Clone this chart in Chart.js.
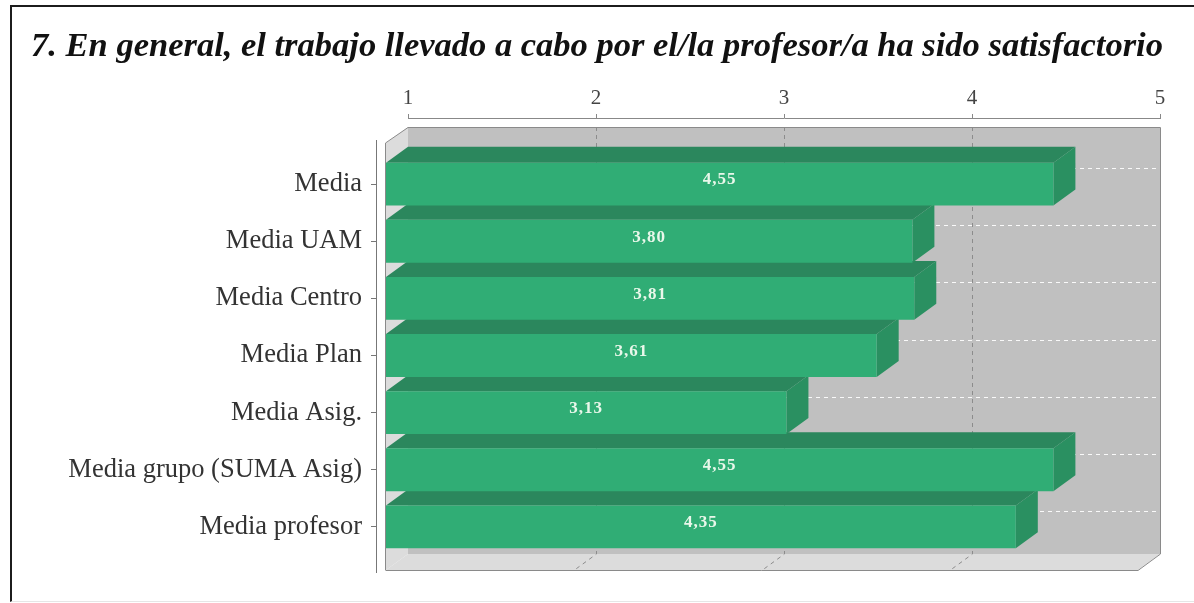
<!DOCTYPE html>
<html>
<head>
<meta charset="utf-8">
<script src="https://cdn.jsdelivr.net/npm/chart.js@4.4.1/dist/chart.umd.min.js"></script>
<style>
  html, body { margin: 0; padding: 0; background: #fff; }
  #wrap { position: relative; width: 1194px; height: 603px; overflow: hidden; }
  #frame { position: absolute; left: 10px; top: 5px; width: 1200px; height: 594px;
           border-left: 2px solid #1c1c1c; border-top: 2px solid #1c1c1c; border-bottom: 1px solid #e6e6e6; }
  canvas { position: absolute; left: 0; top: 0; }
</style>
</head>
<body>
<div id="wrap">
  <div id="frame"></div>
  <canvas id="chart" width="1194" height="603"></canvas>
</div>
<script>
// Data
const chartTitle = '7. En general, el trabajo llevado a cabo por el/la profesor/a ha sido satisfactorio';
const categories = ['Media', 'Media UAM', 'Media Centro', 'Media Plan', 'Media Asig.', 'Media grupo (SUMA Asig)', 'Media profesor'];
const values = [4.55, 3.80, 3.81, 3.61, 3.13, 4.55, 4.35];
const axisTicks = [1, 2, 3, 4, 5];

// 3D look
const DX = 22;          // depth offset to the right
const DY = 16;          // depth offset upwards
const PLOT_TOP = 155.5; // top of the category bands
const PLOT_LEFT = 386;  // value 1 on the front plane
const PLOT_MARGIN_TOP = 12.5;
const PLOT_MARGIN_BOTTOM = 14.5;
const AXIS_GAP = 9;     // space between top axis line and back wall
const Y_AXIS_GAP = 10;  // space between category axis and left wall
const SIDE_PAD = 20;    // same padding left and right keeps the title centred
const RIGHT_GUTTER = 36;

const TITLE_SIZE = 34.5;
const TITLE_PAD = 26.5;

const COLORS = {
    front: '#30ad75',
    top: '#2b875d',
    side: '#2a9061',
    backWall: '#c0c0c0',
    sideWall: '#dcdcdc',
    wallEdge: '#8a8a8a',
    gridV: '#8c8c8c',
    gridH: 'rgba(255,255,255,0.9)',
    label: '#e9f7ea'
};

const fmt = (v) => v.toFixed(2).replace('.', ',');

const poly = (ctx, pts) => {
    ctx.beginPath();
    ctx.moveTo(pts[0][0], pts[0][1]);
    for (let i = 1; i < pts.length; i++) ctx.lineTo(pts[i][0], pts[i][1]);
    ctx.closePath();
};

// front plane box, taken from the scales
function frontPlane(chart) {
    const xs = chart.scales.x;
    const area = chart.chartArea;
    return {
        left: xs.getPixelForValue(axisTicks[0]),
        right: xs.getPixelForValue(axisTicks[axisTicks.length - 1]),
        top: area.top - PLOT_MARGIN_TOP,
        bottom: area.bottom + PLOT_MARGIN_BOTTOM
    };
}

const bars3d = {
    id: 'bars3d',
    afterLayout(chart) {
        const fp = frontPlane(chart);
        // top axis sits above the back wall
        const x2 = chart.scales.x2;
        const shift = (fp.top - DY - AXIS_GAP) - x2.bottom;
        x2.left += DX; x2.right += DX;
        x2.top += shift; x2.bottom += shift;
        x2.configure();
        // category axis line pulled off the left wall
        const y = chart.scales.y;
        y.left -= Y_AXIS_GAP; y.right -= Y_AXIS_GAP;
        y.top = fp.top - 3; y.bottom = fp.bottom + 2;
    },
    beforeDatasetsDraw(chart) {
        const ctx = chart.ctx;
        const xs = chart.scales.x;
        const ys = chart.scales.y;
        const fp = frontPlane(chart);
        const bl = fp.left + DX, br = fp.right + DX, bt = fp.top - DY, bb = fp.bottom - DY;

        ctx.save();
        // back wall
        ctx.fillStyle = COLORS.backWall;
        ctx.fillRect(bl, bt, br - bl, bb - bt);
        // left wall and floor
        ctx.fillStyle = COLORS.sideWall;
        poly(ctx, [[fp.left, fp.top], [bl, bt], [bl, bb], [fp.left, fp.bottom]]);
        ctx.fill();
        poly(ctx, [[fp.left, fp.bottom], [bl, bb], [br, bb], [fp.right, fp.bottom]]);
        ctx.fill();

        // value grid lines on the back wall and floor
        ctx.lineWidth = 1;
        ctx.setLineDash([4, 4]);
        ctx.strokeStyle = COLORS.gridV;
        axisTicks.slice(1, -1).forEach(v => {
            const px = Math.round(xs.getPixelForValue(v)) + 0.5;
            ctx.beginPath();
            ctx.moveTo(px + DX, bt);
            ctx.lineTo(px + DX, bb);
            ctx.lineTo(px, fp.bottom);
            ctx.stroke();
        });
        // category grid lines on the back wall
        ctx.strokeStyle = COLORS.gridH;
        categories.forEach((c, i) => {
            const py = Math.round(ys.getPixelForValue(i)) - DY + 0.5;
            ctx.beginPath();
            ctx.moveTo(bl, py);
            ctx.lineTo(br, py);
            ctx.stroke();
        });
        ctx.setLineDash([]);

        // wall outline
        ctx.strokeStyle = COLORS.wallEdge;
        ctx.beginPath();
        ctx.moveTo(fp.left - 0.5, fp.bottom);
        ctx.lineTo(fp.left - 0.5, fp.top);
        ctx.lineTo(bl, bt + 0.5);
        ctx.lineTo(br + 0.5, bt + 0.5);
        ctx.lineTo(br + 0.5, bb);
        ctx.lineTo(fp.right, fp.bottom + 0.5);
        ctx.lineTo(fp.left - 0.5, fp.bottom + 0.5);
        ctx.stroke();

        // top and side faces of the bars, lowest bar first
        const meta = chart.getDatasetMeta(0);
        for (let i = meta.data.length - 1; i >= 0; i--) {
            const { x, y, base, height } = meta.data[i].getProps(['x', 'y', 'base', 'height'], true);
            const t = y - height / 2, b = y + height / 2;
            ctx.fillStyle = COLORS.top;
            poly(ctx, [[base, t], [base + DX, t - DY], [x + DX, t - DY], [x, t]]);
            ctx.fill();
            ctx.fillStyle = COLORS.side;
            poly(ctx, [[x, t], [x + DX, t - DY], [x + DX, b - DY], [x, b]]);
            ctx.fill();
        }
        ctx.restore();
    },
    afterDatasetsDraw(chart) {
        const ctx = chart.ctx;
        const meta = chart.getDatasetMeta(0);
        ctx.save();
        ctx.letterSpacing = '1px';
        ctx.font = 'bold 17px "Liberation Serif"';
        ctx.fillStyle = COLORS.label;
        ctx.textAlign = 'center';
        ctx.textBaseline = 'middle';
        meta.data.forEach((bar, i) => {
            const { x, y, base } = bar.getProps(['x', 'y', 'base'], true);
            ctx.fillText(fmt(values[i]), (x + base) / 2, y - 4);
        });
        ctx.restore();
        ctx.letterSpacing = '0px';
    }
};

new Chart(document.getElementById('chart'), {
    type: 'bar',
    data: {
        labels: categories,
        datasets: [{
            data: values,
            base: 1,
            backgroundColor: COLORS.front,
            borderWidth: 0,
            categoryPercentage: 1,
            barPercentage: 0.75
        }]
    },
    options: {
        indexAxis: 'y',
        responsive: false,
        animation: false,
        layout: { padding: { left: SIDE_PAD, right: SIDE_PAD, top: 0, bottom: 47.5 } },
        plugins: {
            legend: { display: false },
            tooltip: { enabled: false },
            title: {
                display: true,
                text: chartTitle,
                color: '#111',
                font: { family: '"Liberation Serif"', size: TITLE_SIZE, style: 'italic', weight: 'bold', lineHeight: 1.2 },
                padding: { top: TITLE_PAD, bottom: 0 }
            }
        },
        scales: {
            x: { type: 'linear', min: 1, max: 5, display: false },
            x2: {
                type: 'linear',
                axis: 'x',
                position: 'top',
                min: 1,
                max: 5,
                afterBuildTicks: (s) => { s.ticks = axisTicks.map(v => ({ value: v })); },
                afterFit: (s) => { s.height = PLOT_TOP - TITLE_PAD - TITLE_SIZE * 1.2; },
                ticks: {
                    color: '#444',
                    padding: 3,
                    font: { family: '"Liberation Serif"', size: 21 }
                },
                grid: { drawOnChartArea: false, drawTicks: true, tickLength: 4, color: '#888' },
                border: { color: '#888' }
            },
            y: {
                type: 'category',
                afterFit: (s) => { s.width = PLOT_LEFT - SIDE_PAD; },
                ticks: {
                    color: '#333',
                    padding: 9,
                    autoSkip: false,
                    font: { family: '"Liberation Serif"', size: 26.5 }
                },
                grid: { offset: false, drawOnChartArea: false, drawTicks: true, tickLength: 5, color: '#777' },
                border: { color: '#777' }
            },
            // empty gutter on the right for the 3D depth
            gutter: {
                type: 'linear',
                axis: 'y',
                position: 'right',
                min: 0,
                max: 1,
                afterFit: (s) => { s.width = RIGHT_GUTTER; },
                ticks: { display: false },
                grid: { display: false },
                border: { display: false }
            }
        }
    },
    plugins: [bars3d]
});
</script>
</body>
</html>
